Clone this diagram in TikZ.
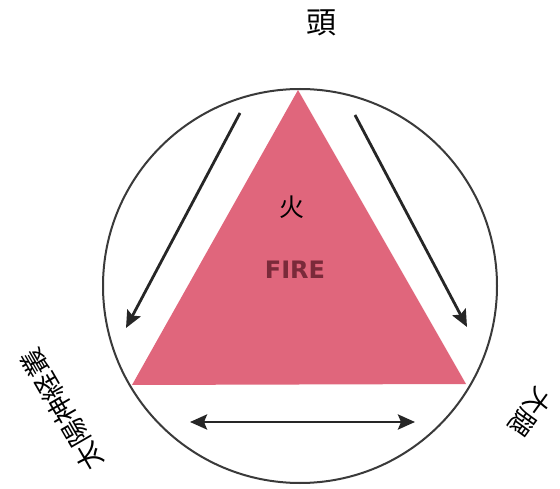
\documentclass[tikz,border=0pt]{standalone}
\usepackage{fontspec}
\newfontfamily\cjk{Noto Sans CJK JP}
\newfontfamily\firefont{DejaVu Sans}
\usetikzlibrary{arrows.meta}
\definecolor{firepink}{HTML}{E0667C}
\definecolor{firetext}{HTML}{7A2A3A}
\definecolor{ringgray}{HTML}{3A3A3A}
\tikzset{
  ring/.style={draw=ringgray, line width=2pt},
  flow/.style={draw=black!85, line width=2.8pt, -{Stealth[length=17pt,width=15pt,inset=3pt]}},
  flowboth/.style={draw=black!85, line width=2.8pt, {Stealth[length=17pt,width=15pt,inset=3pt]}-{Stealth[length=17pt,width=15pt,inset=3pt]}},
  lab/.style={font=\cjk\fontsize{26}{28}\selectfont, inner sep=0pt}
}
\begin{document}
\begin{tikzpicture}[x=1pt,y=-1pt]
\useasboundingbox (0,0) rectangle (560,489);
\fill[white] (0,0) rectangle (560,489);
\node[circle, ring, minimum size=394pt, inner sep=0pt] (circ) at (300,286) {};
\coordinate (apex) at (298,90);
\coordinate (bl) at (132,385);
\coordinate (br) at (466,384);
\fill[firepink] (apex) -- (bl) -- (br) -- cycle;
\node[lab, font=\cjk\fontsize{25}{27}\selectfont] (fire) at (292,207) {火};
\node[inner sep=0pt, text=firetext, font=\firefont\bfseries\fontsize{24}{26}\selectfont] (firelat) at (295,270) {FIRE};
\node[lab, font=\cjk\fontsize{30}{32}\selectfont] (head) at (321,23) {頭};
\node[lab, font=\cjk\fontsize{27}{29}\selectfont, rotate=120] (solar) at (62,410) {太陽神経叢};
\node[lab, rotate=234] (thigh) at (530,412) {大腿};
\coordinate (a1s) at (240,113);
\coordinate (a1e) at (126,328);
\coordinate (a2s) at (355,115);
\coordinate (a2e) at (467,327);
\coordinate (a3s) at (190,422);
\coordinate (a3e) at (415,422);
\draw[flow] (a1s) -- (a1e);
\draw[flow] (a2s) -- (a2e);
\draw[flowboth] (a3s) -- (a3e);
\end{tikzpicture}
\end{document}
